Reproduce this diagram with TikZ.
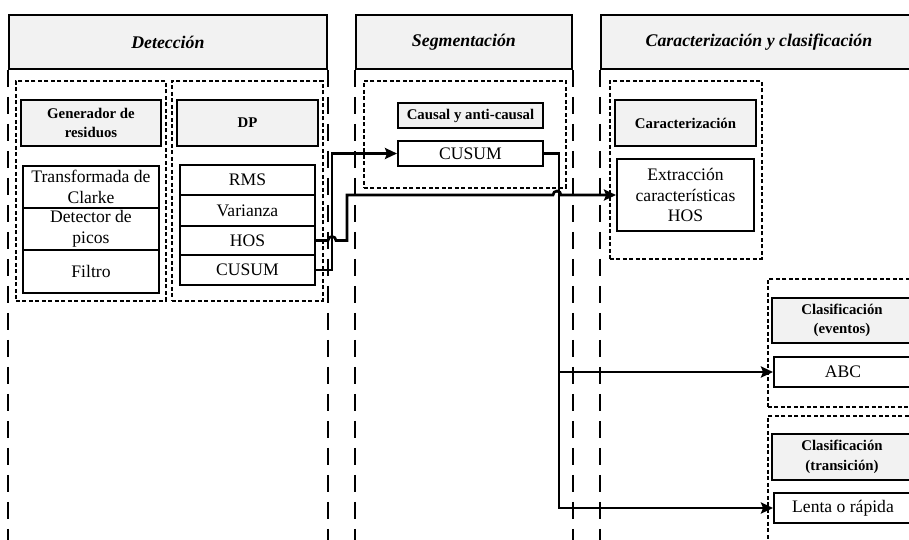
\documentclass[tikz,border=0pt]{standalone}
\usepackage{fontspec}
\setmainfont{Liberation Serif}
\usetikzlibrary{arrows.meta,calc}
\definecolor{boxgray}{HTML}{F2F2F2}
\tikzset{
  base/.style={anchor=north west, inner sep=0pt, align=center, line width=2pt},
  hdr/.style={base, draw, fill=boxgray, line width=1.8pt,
    font=\fontsize{17.8}{21}\selectfont\bfseries\itshape},
  lbl/.style={base, draw, fill=boxgray,
    font=\fontsize{14.8}{19.5}\selectfont\bfseries},
  cell/.style={base, draw, fill=white,
    font=\fontsize{17.6}{20.5}\selectfont},
  grp/.style={base, draw, line width=1.5pt, dash pattern=on 4pt off 2.5pt},
  colline/.style={line width=2pt, dash pattern=on 17pt off 10pt},
  conn/.style={line width=2.7pt, -{Stealth[length=12pt,width=11pt,inset=2pt]}},
}
\begin{document}
\begin{tikzpicture}[x=1pt,y=1pt]
\useasboundingbox (0,0) rectangle (909,-539);
\clip (0,0) rectangle (909,-539);

% column headers
\node[hdr, minimum width=318, minimum height=54] (hdet) at (8,-14) {Detección};
\node[hdr, minimum width=216, minimum height=54] (hseg) at (355,-14) {Segmentación};
\node[hdr, minimum width=316, minimum height=54] (hcar) at (600,-14) {Caracterización y clasificación};

% dashed column borders
\foreach \n in {hdet,hseg,hcar}{
  \draw[colline] (\n.south west) -- (\n.south west |- 0,-545);
  \draw[colline] (\n.south east) -- (\n.south east |- 0,-545);
}

% dotted groups
\node[grp, minimum width=150, minimum height=220] (ggen) at (15,-80) {};
\node[grp, minimum width=151, minimum height=220] (gdp) at (171,-80) {};
\node[grp, minimum width=202, minimum height=107] (gseg) at (363,-80) {};
\node[grp, minimum width=152, minimum height=178] (gcar) at (609,-80) {};
\node[grp, minimum width=150, minimum height=128] (gev) at (767,-278) {};
\node[grp, minimum width=150, minimum height=140] (gtr) at (767,-415) {};

% group titles
\node[lbl, minimum width=140, minimum height=46] (lgen) at (20,-99) {Generador de\\residuos};
\node[lbl, minimum width=141, minimum height=46] (ldp) at (176,-99) {DP};
\node[lbl, minimum width=145, minimum height=25] (lseg) at (397,-102) {Causal y anti-causal};
\node[lbl, minimum width=141, minimum height=46] (lcar) at (614,-99) {Caracterización};
\node[lbl, minimum width=140, minimum height=45] (lev) at (771,-297) {Clasificación\\(eventos)};
\node[lbl, minimum width=140, minimum height=46] (ltr) at (771,-433) {Clasificación\\(transición)};

% residual generator stack
\node[cell, minimum width=136, minimum height=42] (clarke) at (22,-165) {Transformada de\\Clarke};
\node[cell, minimum width=136, minimum height=42] (picos) at (22,-207) {Detector de\\picos};
\node[cell, minimum width=136, minimum height=43] (filtro) at (22,-249) {Filtro};

% DP stack
\node[cell, minimum width=135, minimum height=30] (rms) at (179,-164) {RMS};
\node[cell, minimum width=135, minimum height=31] (var) at (179,-194) {Varianza};
\node[cell, minimum width=135, minimum height=29] (hos) at (179,-225) {HOS};
\node[cell, minimum width=135, minimum height=30] (dpcusum) at (179,-254) {CUSUM};

% segmentation, characterization, classification
\node[cell, minimum width=145, minimum height=25] (segcusum) at (397,-140) {CUSUM};
\node[cell, minimum width=137, minimum height=72] (extr) at (616,-158) {Extracción\\características\\HOS};
\node[cell, minimum width=138, minimum height=30] (abc) at (773,-356) {ABC};
\node[cell, minimum width=138, minimum height=30] (lenta) at (773,-492) {Lenta o rápida};

% connectors
\draw[conn] (dpcusum.east) -- ++(16,0) |- (segcusum.west);
\draw[conn] (hos.east) -- ++(12,0) arc[start angle=180, end angle=0, radius=4]
  -- ++(11,0) |- ($(extr.west)+(-63,0)$) arc[start angle=180, end angle=0, radius=4]
  -- (extr.west);
\draw[conn] (segcusum.east) -- ++(15,0) |- (abc.west);
\draw[conn] (segcusum.east) -- ++(15,0) |- (lenta.west);
\end{tikzpicture}
\end{document}
